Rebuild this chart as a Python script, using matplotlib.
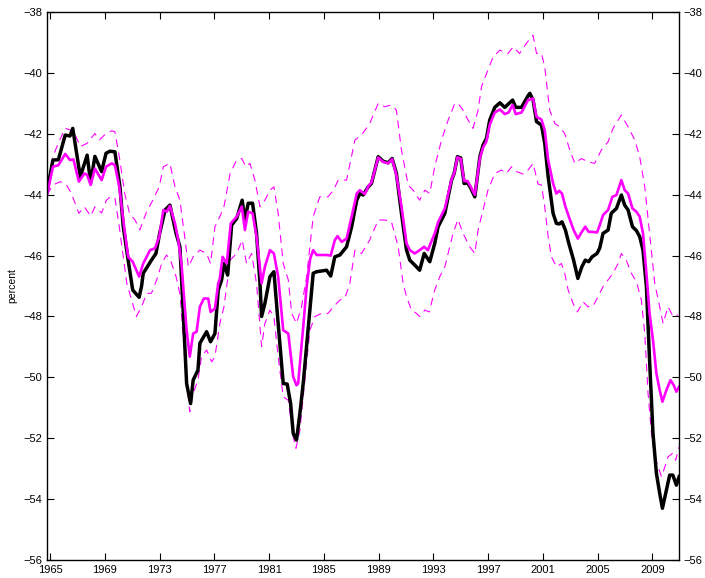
import matplotlib
matplotlib.use('Agg')
import matplotlib.pyplot as plt

# black line (estimate)
black_x = [1964.77, 1965.2, 1965.6, 1966.1, 1966.45, 1966.65, 1967.2, 1967.7, 1967.96, 1968.27,
           1968.76, 1969.08, 1969.37, 1969.73, 1970.1, 1970.34, 1970.7, 1971.03, 1971.5, 1971.68,
           1971.8, 1972.4, 1972.73, 1973.0, 1973.4, 1973.75, 1974.2, 1974.48, 1974.68, 1974.97,
           1975.26, 1975.45, 1975.8, 1975.94, 1976.43, 1976.72, 1977.04, 1977.28, 1977.53, 1977.7,
           1977.97, 1978.26, 1978.63, 1979.03, 1979.23, 1979.47, 1979.79, 1980.08, 1980.33, 1980.45,
           1980.69, 1981.06, 1981.35, 1981.66, 1982.03, 1982.32, 1982.57, 1982.76, 1983.0, 1983.25,
           1983.49, 1983.98, 1984.22, 1984.47, 1985.2, 1985.5, 1985.8, 1986.17, 1986.66, 1987.03,
           1987.4, 1987.63, 1987.87, 1988.24, 1988.48, 1988.97, 1989.33, 1989.7, 1989.99, 1990.3,
           1990.67, 1991.04, 1991.28, 1991.64, 1992.0, 1992.33, 1992.74, 1993.1, 1993.35, 1993.84,
           1994.33, 1994.52, 1994.76, 1995.0, 1995.25, 1995.5, 1995.74, 1996.03, 1996.4, 1996.63,
           1996.88, 1997.12, 1997.49, 1997.86, 1998.22, 1998.79, 1999.02, 1999.44, 1999.92, 2000.05,
           2000.29, 2000.54, 2000.9, 2001.14, 2001.39, 2001.75, 2001.99, 2002.2, 2002.4, 2002.65,
           2002.9, 2003.25, 2003.56, 2003.85, 2004.1, 2004.35, 2004.6, 2004.96, 2005.16, 2005.4,
           2005.77, 2006.0, 2006.38, 2006.74, 2006.98, 2007.23, 2007.55, 2007.84, 2008.08, 2008.32,
           2008.57, 2008.8, 2009.05, 2009.3, 2009.54, 2009.74, 2010.03, 2010.27, 2010.5, 2010.76,
           2010.96]
black_y = [-43.9, -42.86, -42.85, -42.04, -42.07, -41.82, -43.41, -42.7, -43.6, -42.74,
           -43.24, -42.64, -42.57, -42.59, -43.74, -45.05, -46.15, -47.13, -47.37, -47.0,
           -46.58, -46.15, -45.93, -45.27, -44.5, -44.34, -45.27, -45.71, -47.46, -50.2,
           -50.86, -50.09, -49.76, -48.88, -48.5, -48.83, -48.56, -47.13, -46.8, -46.26,
           -46.64, -45.0, -44.78, -44.18, -44.83, -44.28, -44.28, -45.27, -46.91, -48.0,
           -47.57, -46.69, -46.53, -48.23, -50.2, -50.22, -50.86, -51.84, -52.06, -51.18,
           -50.2, -47.79, -46.58, -46.53, -46.48, -46.67, -46.04, -45.98, -45.71, -45.05,
           -44.18, -43.96, -44.01, -43.74, -43.63, -42.75, -42.9, -42.95, -42.81, -43.3,
           -44.61, -45.82, -46.15, -46.31, -46.48, -45.93, -46.2, -45.6, -45.05, -44.61,
           -43.52, -43.3, -42.75, -42.79, -43.63, -43.61, -43.79, -44.07, -42.75, -42.37,
           -42.15, -41.55, -41.13, -40.98, -41.13, -40.89, -41.13, -41.13, -40.75, -40.67,
           -40.89, -41.6, -41.71, -42.31, -43.41, -44.61, -44.94, -44.96, -44.89, -45.16,
           -45.6, -46.15, -46.75, -46.37, -46.15, -46.2, -46.04, -45.93, -45.75, -45.27,
           -45.16, -44.61, -44.45, -44.01, -44.34, -44.5, -45.05, -45.18, -45.38, -45.82,
           -47.02, -49.43, -51.84, -53.15, -53.81, -54.3, -53.7, -53.21, -53.21, -53.54,
           -53.26]

# magenta line
mag_x = [1964.77, 1965.2, 1965.6, 1966.1, 1966.45, 1966.7, 1967.1, 1967.5, 1967.7, 1967.96,
         1968.27, 1968.76, 1969.08, 1969.5, 1969.73, 1970.05, 1970.34, 1970.7, 1971.03, 1971.5,
         1971.8, 1972.3, 1972.66, 1972.97, 1973.27, 1973.52, 1973.75, 1974.12, 1974.36, 1974.6,
         1974.97, 1975.2, 1975.45, 1975.7, 1975.94, 1976.23, 1976.55, 1976.72, 1977.04, 1977.28,
         1977.4, 1977.6, 1977.9, 1978.2, 1978.63, 1979.0, 1979.23, 1979.47, 1979.79, 1980.08,
         1980.45, 1980.69, 1981.06, 1981.35, 1981.66, 1982.03, 1982.4, 1982.76, 1983.0, 1983.12,
         1983.5, 1983.74, 1984.0, 1984.22, 1984.47, 1985.2, 1985.5, 1985.8, 1986.0, 1986.3,
         1986.66, 1987.03, 1987.4, 1987.63, 1987.87, 1988.0, 1988.24, 1988.48, 1988.97, 1989.33,
         1989.7, 1989.99, 1990.3, 1990.67, 1991.04, 1991.28, 1991.64, 1992.0, 1992.33, 1992.6,
         1993.1, 1993.35, 1993.84, 1994.33, 1994.52, 1994.76, 1995.0, 1995.25, 1995.5, 1995.74,
         1996.03, 1996.4, 1996.63, 1996.88, 1997.12, 1997.49, 1997.86, 1998.22, 1998.5, 1998.79,
         1999.02, 1999.44, 1999.92, 2000.28, 2000.54, 2000.9, 2001.14, 2001.39, 2001.75, 2001.99,
         2002.2, 2002.4, 2002.65, 2002.9, 2003.25, 2003.56, 2003.85, 2004.1, 2004.35, 2004.6,
         2004.96, 2005.16, 2005.4, 2005.77, 2006.08, 2006.38, 2006.74, 2006.98, 2007.23, 2007.55,
         2007.84, 2008.08, 2008.32, 2008.57, 2008.8, 2009.05, 2009.3, 2009.54, 2009.74, 2010.03,
         2010.33, 2010.57, 2010.76, 2010.96]
mag_y = [-44.0, -43.08, -43.03, -42.66, -42.86, -42.84, -43.57, -43.3, -43.35, -43.68,
         -43.14, -43.52, -43.08, -42.97, -43.03, -43.74, -44.83, -46.04, -46.2, -46.69,
         -46.26, -45.82, -45.76, -45.38, -44.5, -44.56, -44.37, -44.94, -45.49, -46.3,
         -48.45, -49.32, -48.56, -48.5, -47.68, -47.41, -47.41, -47.85, -47.74, -46.91,
         -46.75, -46.04, -46.26, -44.94, -44.72, -44.39, -45.16, -44.56, -44.61, -45.38,
         -46.91, -46.37, -45.82, -45.93, -46.69, -48.45, -48.56, -49.98, -50.26, -50.2,
         -48.3, -47.02, -46.1, -45.82, -45.98, -45.98, -46.0, -45.49, -45.36, -45.55,
         -45.44, -44.72, -43.96, -43.85, -43.94, -43.98, -43.72, -43.6, -42.78, -42.92,
         -42.97, -42.83, -43.35, -44.39, -45.6, -45.82, -45.93, -45.82, -45.71, -45.82,
         -45.27, -44.9, -44.45, -43.5, -43.3, -42.77, -42.82, -43.55, -43.55, -43.75,
         -44.0, -42.8, -42.45, -42.25, -41.7, -41.3, -41.2, -41.35, -41.3, -41.05,
         -41.35, -41.3, -40.89, -40.84, -41.44, -41.53, -41.88, -42.86, -43.63, -43.96,
         -43.87, -43.96, -44.39, -44.72, -45.16, -45.44, -45.22, -45.05, -45.22, -45.22,
         -45.24, -45.0, -44.67, -44.5, -44.07, -44.01, -43.52, -43.85, -43.96, -44.45,
         -44.56, -44.72, -45.27, -46.58, -47.9, -48.78, -49.87, -50.42, -50.8, -50.42,
         -50.09, -50.26, -50.47, -50.31]

# dashed bands
upper_x = [1964.77, 1965.2, 1965.6, 1966.1, 1966.7, 1967.2, 1967.7, 1968.27, 1968.6, 1969.08,
           1969.5, 1969.73, 1970.05, 1970.45, 1970.8, 1971.2, 1971.55, 1972.0, 1972.5, 1972.97,
           1973.27, 1973.75, 1974.12, 1974.48, 1974.8, 1975.1, 1975.45, 1975.94, 1976.43, 1976.72,
           1977.04, 1977.4, 1977.7, 1978.15, 1978.63, 1979.0, 1979.3, 1979.6, 1979.96, 1980.33,
           1980.69, 1981.06, 1981.35, 1981.66, 1982.03, 1982.4, 1982.65, 1983.0, 1983.37, 1983.74,
           1984.22, 1984.7, 1985.3, 1985.7, 1986.05, 1986.66, 1987.27, 1987.75, 1988.35, 1988.97,
           1989.45, 1989.94, 1990.3, 1990.67, 1991.16, 1991.52, 1992.0, 1992.38, 1992.74, 1993.1,
           1993.6, 1994.08, 1994.57, 1994.8, 1995.17, 1995.54, 1995.9, 1996.27, 1996.52, 1996.99,
           1997.37, 1997.86, 1998.46, 1998.83, 1999.3, 1999.79, 2000.28, 2000.54, 2000.9, 2001.14,
           2001.5, 2001.88, 2002.24, 2002.6, 2002.97, 2003.34, 2003.82, 2004.3, 2004.79, 2005.28,
           2005.77, 2006.13, 2006.74, 2007.23, 2007.72, 2008.08, 2008.45, 2008.8, 2009.18, 2009.54,
           2009.79, 2010.15, 2010.52, 2010.88]
upper_y = [-43.9, -42.75, -42.3, -41.82, -41.9, -42.42, -42.31, -41.99, -42.2, -41.99,
           -41.9, -41.93, -42.75, -43.96, -44.61, -44.83, -45.16, -44.61, -44.18, -43.74,
           -43.08, -42.97, -43.74, -44.18, -45.27, -46.37, -46.04, -45.82, -45.93, -46.26,
           -45.05, -44.72, -44.39, -43.3, -42.86, -42.81, -43.08, -42.97, -43.52, -44.39,
           -44.18, -43.85, -43.74, -44.61, -46.26, -46.8, -47.9, -48.23, -47.68, -46.69,
           -44.72, -44.07, -44.07, -43.85, -43.52, -43.52, -42.2, -42.04, -41.66, -41.0,
           -41.11, -41.05, -41.22, -42.53, -43.68, -43.85, -44.18, -43.85, -43.96, -43.08,
           -42.2, -41.55, -41.0, -41.0, -41.22, -41.55, -41.82, -41.22, -40.45, -39.9,
           -39.47, -39.25, -39.36, -39.14, -39.36, -39.03, -38.76, -39.36, -39.36, -39.8,
           -41.22, -41.66, -41.77, -41.99, -42.53, -42.97, -42.81, -42.92, -42.97, -42.53,
           -42.26, -41.82, -41.38, -41.77, -42.2, -42.75, -43.74, -45.27, -46.91, -47.68,
           -48.23, -47.68, -48.0, -47.95]

lower_x = [1964.77, 1965.2, 1965.75, 1966.2, 1966.55, 1967.1, 1967.5, 1967.96, 1968.27, 1968.76,
           1969.08, 1969.37, 1969.73, 1970.05, 1970.6, 1970.95, 1971.3, 1971.68, 1972.05, 1972.4,
           1972.78, 1973.15, 1973.5, 1973.8, 1974.2, 1974.5, 1974.85, 1975.2, 1975.45, 1975.8,
           1976.06, 1976.43, 1976.8, 1977.04, 1977.4, 1977.7, 1978.15, 1978.63, 1979.03, 1979.35,
           1979.72, 1980.08, 1980.45, 1980.69, 1981.06, 1981.35, 1981.66, 1982.03, 1982.4, 1982.76,
           1982.96, 1983.25, 1983.61, 1983.98, 1984.35, 1984.83, 1985.3, 1985.7, 1986.17, 1986.53,
           1986.9, 1987.27, 1987.75, 1988.35, 1988.97, 1989.45, 1989.94, 1990.43, 1990.79, 1991.04,
           1991.4, 1991.77, 1992.0, 1992.38, 1992.7, 1993.1, 1993.47, 1993.84, 1994.08, 1994.44,
           1994.8, 1995.17, 1995.66, 1996.03, 1996.27, 1996.63, 1996.99, 1997.49, 1997.98, 1998.35,
           1998.71, 1999.08, 1999.56, 1999.92, 2000.29, 2000.65, 2000.9, 2001.14, 2001.39, 2001.63,
           2002.0, 2002.36, 2002.6, 2002.85, 2003.21, 2003.53, 2003.94, 2004.3, 2004.67, 2005.03,
           2005.4, 2005.77, 2006.13, 2006.5, 2006.74, 2007.1, 2007.47, 2007.84, 2008.2, 2008.45,
           2008.69, 2008.94, 2009.18, 2009.5, 2009.67, 2009.92, 2010.15, 2010.47, 2010.71, 2010.96]
lower_y = [-44.0, -43.68, -43.57, -43.68, -43.96, -44.61, -44.4, -44.7, -44.4, -44.6,
           -44.2, -44.07, -44.1, -45.05, -46.91, -47.46, -48.0, -47.68, -47.24, -47.24,
           -46.8, -46.26, -45.98, -46.15, -46.69, -47.3, -49.54, -51.13, -50.53, -50.09,
           -49.32, -49.1, -49.49, -49.32, -48.23, -47.68, -46.15, -45.93, -45.49, -46.26,
           -45.93, -46.91, -48.99, -48.23, -47.79, -48.0, -49.32, -50.64, -50.75, -51.95,
           -52.33, -51.73, -50.09, -48.45, -48.0, -47.9, -47.9, -47.68, -47.46, -47.4,
           -46.91, -45.82, -45.93, -45.49, -44.83, -44.83, -44.89, -45.71, -46.91, -47.35,
           -47.79, -47.9, -48.0, -47.79, -47.85, -47.13, -46.69, -46.37, -45.93, -45.27,
           -44.81, -45.27, -45.71, -45.93, -45.16, -44.5, -43.85, -43.3, -43.19, -43.3,
           -43.08, -43.24, -43.32, -43.19, -42.97, -43.65, -43.68, -44.39, -45.38, -46.04,
           -46.37, -46.26, -46.58, -47.13, -47.57, -47.85, -47.52, -47.68, -47.66, -47.35,
           -47.02, -46.8, -46.58, -46.26, -45.93, -46.15, -46.58, -46.86, -47.46, -48.56,
           -50.53, -51.84, -52.61, -53.04, -53.26, -52.94, -52.61, -52.5, -52.72, -52.28]

year_ticks = list(range(1965, 2010, 4))
y_ticks = list(range(-56, -37, 2))

plt.rcParams['font.family'] = ['Liberation Sans', 'DejaVu Sans']

fig = plt.figure(figsize=(7.05, 5.78), dpi=100)
ax = fig.add_axes([0.0667, 0.0311, 0.8964, 0.948])

ax.plot(upper_x, upper_y, color='#ff00ff', linewidth=0.8, linestyle=(0, (7, 5)))
ax.plot(lower_x, lower_y, color='#ff00ff', linewidth=0.8, linestyle=(0, (7, 5)))
ax.plot(black_x, black_y, color='black', linewidth=2.5)
ax.plot(mag_x, mag_y, color='#ff00ff', linewidth=1.9)

ax.set_xlim(1964.77, 2010.95)
ax.set_ylim(-56, -38)
ax.set_xticks(year_ticks)
ax.set_yticks(y_ticks)
ax.set_yticklabels([str(v).replace('-', '\u2212') for v in y_ticks])
ax.tick_params(direction='in', top=True, right=True, labelright=True,
               labelsize=8, length=5, width=0.8)
ax.set_ylabel('percent', fontsize=7.5, labelpad=4)
for s in ax.spines.values():
    s.set_linewidth(1.0)

fig.savefig('out.png', dpi=100)
